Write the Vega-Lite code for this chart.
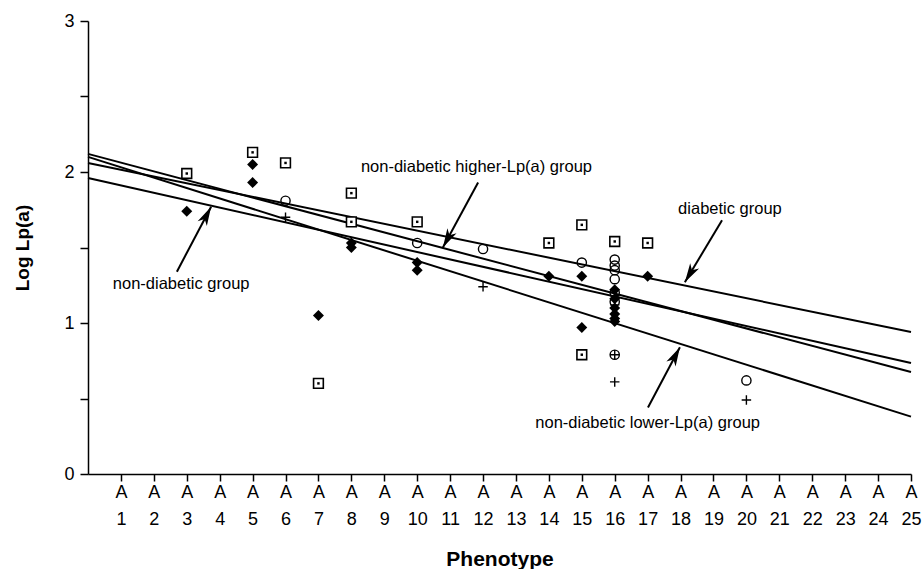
{
  "$schema": "https://vega.github.io/schema/vega-lite/v6.json",
  "width": 823,
  "height": 453,
  "autosize": "none",
  "padding": {"left": 88, "top": 21, "right": 12, "bottom": 95},
  "background": "white",
  "config": {
    "view": {"stroke": null},
    "font": "Liberation Sans",
    "axis": {
      "grid": false,
      "domainColor": "black",
      "tickColor": "black",
      "labelColor": "black",
      "titleColor": "black",
      "domainWidth": 1.5,
      "tickWidth": 1.5,
      "labelFont": "Liberation Sans",
      "titleFont": "Liberation Sans"
    }
  },
  "datasets": {
    "points": [
      {"group": "diabetic", "phenotype": 3, "loglpa": 1.99},
      {"group": "diabetic", "phenotype": 5, "loglpa": 2.13},
      {"group": "diabetic", "phenotype": 6, "loglpa": 2.06},
      {"group": "diabetic", "phenotype": 7, "loglpa": 0.60},
      {"group": "diabetic", "phenotype": 8, "loglpa": 1.86},
      {"group": "diabetic", "phenotype": 8, "loglpa": 1.67},
      {"group": "diabetic", "phenotype": 10, "loglpa": 1.67},
      {"group": "diabetic", "phenotype": 14, "loglpa": 1.53},
      {"group": "diabetic", "phenotype": 15, "loglpa": 1.65},
      {"group": "diabetic", "phenotype": 15, "loglpa": 0.79},
      {"group": "diabetic", "phenotype": 16, "loglpa": 1.54},
      {"group": "diabetic", "phenotype": 17, "loglpa": 1.53},
      {"group": "non-diabetic lower", "phenotype": 3, "loglpa": 1.74},
      {"group": "non-diabetic lower", "phenotype": 5, "loglpa": 2.05},
      {"group": "non-diabetic lower", "phenotype": 5, "loglpa": 1.93},
      {"group": "non-diabetic lower", "phenotype": 7, "loglpa": 1.05},
      {"group": "non-diabetic lower", "phenotype": 8, "loglpa": 1.53},
      {"group": "non-diabetic lower", "phenotype": 8, "loglpa": 1.50},
      {"group": "non-diabetic lower", "phenotype": 10, "loglpa": 1.40},
      {"group": "non-diabetic lower", "phenotype": 10, "loglpa": 1.35},
      {"group": "non-diabetic lower", "phenotype": 14, "loglpa": 1.31},
      {"group": "non-diabetic lower", "phenotype": 15, "loglpa": 1.31},
      {"group": "non-diabetic lower", "phenotype": 15, "loglpa": 0.97},
      {"group": "non-diabetic lower", "phenotype": 16, "loglpa": 1.22},
      {"group": "non-diabetic lower", "phenotype": 16, "loglpa": 1.16},
      {"group": "non-diabetic lower", "phenotype": 16, "loglpa": 1.10},
      {"group": "non-diabetic lower", "phenotype": 16, "loglpa": 1.06},
      {"group": "non-diabetic lower", "phenotype": 16, "loglpa": 1.03},
      {"group": "non-diabetic lower", "phenotype": 16, "loglpa": 1.01},
      {"group": "non-diabetic lower", "phenotype": 17, "loglpa": 1.31},
      {"group": "non-diabetic higher", "phenotype": 6, "loglpa": 1.81},
      {"group": "non-diabetic higher", "phenotype": 10, "loglpa": 1.53},
      {"group": "non-diabetic higher", "phenotype": 12, "loglpa": 1.49},
      {"group": "non-diabetic higher", "phenotype": 15, "loglpa": 1.40},
      {"group": "non-diabetic higher", "phenotype": 16, "loglpa": 1.42},
      {"group": "non-diabetic higher", "phenotype": 16, "loglpa": 1.38},
      {"group": "non-diabetic higher", "phenotype": 16, "loglpa": 1.35},
      {"group": "non-diabetic higher", "phenotype": 16, "loglpa": 1.29},
      {"group": "non-diabetic higher", "phenotype": 16, "loglpa": 1.20},
      {"group": "non-diabetic higher", "phenotype": 16, "loglpa": 1.14},
      {"group": "non-diabetic higher", "phenotype": 16, "loglpa": 0.79},
      {"group": "non-diabetic higher", "phenotype": 20, "loglpa": 0.62},
      {"group": "other", "phenotype": 6, "loglpa": 1.70},
      {"group": "other", "phenotype": 12, "loglpa": 1.24},
      {"group": "other", "phenotype": 16, "loglpa": 1.18},
      {"group": "other", "phenotype": 16, "loglpa": 1.12},
      {"group": "other", "phenotype": 16, "loglpa": 0.79},
      {"group": "other", "phenotype": 16, "loglpa": 0.61},
      {"group": "other", "phenotype": 20, "loglpa": 0.49}
    ],
    "lines": [
      {"line": "diabetic group", "phenotype": 0, "loglpa": 2.06},
      {"line": "diabetic group", "phenotype": 25, "loglpa": 0.94},
      {"line": "non-diabetic group", "phenotype": 0, "loglpa": 1.96},
      {"line": "non-diabetic group", "phenotype": 25, "loglpa": 0.735},
      {"line": "non-diabetic higher-Lp(a) group", "phenotype": 0, "loglpa": 2.12},
      {"line": "non-diabetic higher-Lp(a) group", "phenotype": 25, "loglpa": 0.675},
      {"line": "non-diabetic lower-Lp(a) group", "phenotype": 0, "loglpa": 2.10},
      {"line": "non-diabetic lower-Lp(a) group", "phenotype": 25, "loglpa": 0.38}
    ],
    "labels": [
      {"text": "non-diabetic higher-Lp(a) group", "phenotype": 11.8, "loglpa": 2.03},
      {"text": "diabetic group", "phenotype": 19.5, "loglpa": 1.755},
      {"text": "non-diabetic group", "phenotype": 2.83, "loglpa": 1.26},
      {"text": "non-diabetic lower-Lp(a) group", "phenotype": 17.0, "loglpa": 0.34}
    ],
    "arrows": [
      {"label": "non-diabetic group", "phenotype": 2.70, "loglpa": 1.34, "tipx": 3.74, "tipy": 1.77},
      {"label": "non-diabetic higher-Lp(a) group", "phenotype": 11.85, "loglpa": 1.93, "tipx": 10.78, "tipy": 1.50},
      {"label": "diabetic group", "phenotype": 19.26, "loglpa": 1.68, "tipx": 18.13, "tipy": 1.27},
      {"label": "non-diabetic lower-Lp(a) group", "phenotype": 17.01, "loglpa": 0.44, "tipx": 17.98, "tipy": 0.84}
    ]
  },
  "layer": [
    {
      "data": {"name": "lines"},
      "mark": {"type": "line", "color": "black", "strokeWidth": 2},
      "encoding": {
        "x": {
          "field": "phenotype",
          "type": "quantitative",
          "scale": {"domain": [0, 25], "nice": false, "zero": false},
          "axis": {
            "values": [1,2,3,4,5,6,7,8,9,10,11,12,13,14,15,16,17,18,19,20,21,22,23,24,25],
            "tickCount": 40,
            "labelExpr": "['A', format(datum.value, 'd')]",
            "labelFontSize": 18,
            "labelLineHeight": 27,
            "labelBaseline": "top",
            "labelAngle": 0,
            "labelOverlap": false,
            "labelFlush": false,
            "tickSize": 7,
            "labelPadding": 2,
            "title": "Phenotype",
            "titleFontSize": 21,
            "titleFontWeight": "bold",
            "titleY": 91,
            "titleBaseline": "alphabetic"
          }
        },
        "y": {
          "field": "loglpa",
          "type": "quantitative",
          "scale": {"domain": [0, 3], "nice": false},
          "axis": {
            "values": [0, 0.5, 1, 1.5, 2, 2.5, 3],
            "tickCount": 20,
            "labelExpr": "datum.value % 1 === 0 ? format(datum.value, 'd') : ''",
            "labelFontSize": 18,
            "labelPadding": 6,
            "tickSize": 8,
            "title": "Log Lp(a)",
            "titleFontSize": 19,
            "titleFontWeight": "bold",
            "titleX": -60,
            "titleBaseline": "alphabetic",
            "encode": {
              "ticks": {
                "enter": {"x": {"value": 0}, "x2": {"signal": "datum.value % 1 === 0 ? -8 : -4"}},
                "update": {"x": {"value": 0}, "x2": {"signal": "datum.value % 1 === 0 ? -8 : -4"}}
              }
            }
          }
        },
        "detail": {"field": "line", "type": "nominal"}
      }
    },
    {
      "data": {"name": "points"},
      "transform": [{"filter": "datum.group === 'diabetic'"}],
      "mark": {"type": "point", "shape": "square", "size": 95, "filled": true, "fill": "white", "stroke": "black", "strokeWidth": 1.6, "opacity": 1},
      "encoding": {
        "x": {"field": "phenotype", "type": "quantitative"},
        "y": {"field": "loglpa", "type": "quantitative"}
      }
    },
    {
      "data": {"name": "points"},
      "transform": [{"filter": "datum.group === 'diabetic'"}],
      "mark": {"type": "point", "shape": "square", "size": 6, "filled": true, "color": "black", "opacity": 1},
      "encoding": {
        "x": {"field": "phenotype", "type": "quantitative"},
        "y": {"field": "loglpa", "type": "quantitative"}
      }
    },
    {
      "data": {"name": "points"},
      "transform": [{"filter": "datum.group === 'non-diabetic lower'"}],
      "mark": {"type": "point", "shape": "diamond", "size": 120, "filled": true, "color": "black", "opacity": 1},
      "encoding": {
        "x": {"field": "phenotype", "type": "quantitative"},
        "y": {"field": "loglpa", "type": "quantitative"}
      }
    },
    {
      "data": {"name": "points"},
      "transform": [{"filter": "datum.group === 'non-diabetic higher'"}],
      "mark": {"type": "point", "shape": "circle", "size": 85, "filled": false, "color": "black", "strokeWidth": 1.4, "opacity": 1},
      "encoding": {
        "x": {"field": "phenotype", "type": "quantitative"},
        "y": {"field": "loglpa", "type": "quantitative"}
      }
    },
    {
      "data": {"name": "points"},
      "transform": [{"filter": "datum.group === 'other'"}],
      "mark": {"type": "point", "shape": "M-1,0H1M0,-1V1", "size": 90, "filled": false, "color": "black", "strokeWidth": 1.4, "opacity": 1},
      "encoding": {
        "x": {"field": "phenotype", "type": "quantitative"},
        "y": {"field": "loglpa", "type": "quantitative"}
      }
    },
    {
      "data": {"name": "labels"},
      "mark": {"type": "text", "fontSize": 16.5, "align": "center", "baseline": "middle", "color": "black", "font": "Liberation Sans"},
      "encoding": {
        "x": {"field": "phenotype", "type": "quantitative"},
        "y": {"field": "loglpa", "type": "quantitative"},
        "text": {"field": "text"}
      }
    },
    {
      "data": {"name": "arrows"},
      "mark": {"type": "rule", "color": "black", "strokeWidth": 2},
      "encoding": {
        "x": {"field": "phenotype", "type": "quantitative"},
        "y": {"field": "loglpa", "type": "quantitative"},
        "x2": {"field": "tipx"},
        "y2": {"field": "tipy"}
      }
    },
    {
      "data": {"name": "arrows"},
      "transform": [{"calculate": "atan2((datum.tipx - datum.phenotype) * 32.92, (datum.tipy - datum.loglpa) * 151) * 180 / PI", "as": "ang"}],
      "mark": {"type": "point", "shape": "M0,0L0.6,2.2L0,1.6L-0.6,2.2Z", "size": 300, "filled": true, "color": "black", "opacity": 1},
      "encoding": {
        "x": {"field": "tipx", "type": "quantitative"},
        "y": {"field": "tipy", "type": "quantitative"},
        "angle": {"field": "ang", "type": "quantitative", "scale": null}
      }
    }
  ]
}
